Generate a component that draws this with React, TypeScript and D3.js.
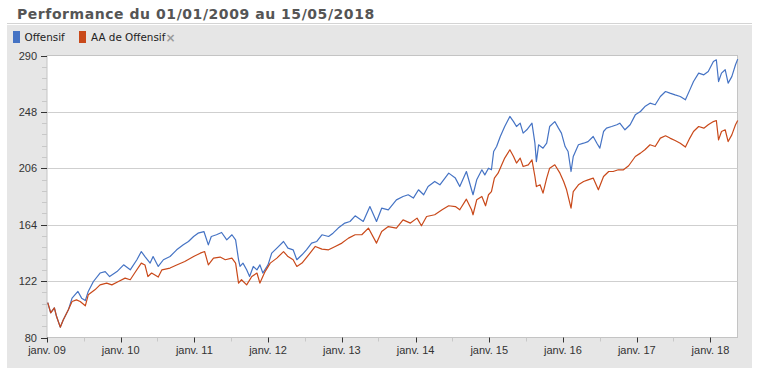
import React from "react";
import * as d3 from "d3";

// chart frame
const W = 759;
const H = 368;
const plotLeft = 47;
const plotRight = 737.5;
const plotTop = 55.5;
const plotBottom = 337.5;

const title = "Performance du 01/01/2009 au 15/05/2018";
const seriesNames = ["Offensif", "AA de Offensif"];
const seriesColors = ["#4573c4", "#c9491a"];

const yTicks = [80, 122, 164, 206, 248, 290];
const xTickLabels = ["janv. 09", "janv. 10", "janv. 11", "janv. 12", "janv. 13", "janv. 14", "janv. 15", "janv. 16", "janv. 17", "janv. 18"];

// dates as decimal years
const offensifYears = [
  2009.01, 2009.05, 2009.10, 2009.13, 2009.18, 2009.22, 2009.29, 2009.34, 2009.42, 2009.47, 2009.52, 2009.56, 2009.63, 2009.72, 2009.79, 2009.85, 2009.95,
  2010.04, 2010.13, 2010.22, 2010.28, 2010.33, 2010.40, 2010.44, 2010.51, 2010.58, 2010.67, 2010.76, 2010.85, 2010.92, 2010.99,
  2011.05, 2011.13, 2011.19, 2011.23, 2011.30, 2011.37, 2011.44, 2011.51, 2011.56, 2011.60, 2011.62, 2011.66, 2011.71, 2011.75, 2011.80, 2011.85, 2011.89, 2011.93,
  2012.00, 2012.05, 2012.12, 2012.21, 2012.27, 2012.34, 2012.39, 2012.46, 2012.52, 2012.59, 2012.66, 2012.73, 2012.82, 2012.88, 2012.95,
  2013.04, 2013.11, 2013.18, 2013.29, 2013.38, 2013.47, 2013.54, 2013.63, 2013.74, 2013.83, 2013.90, 2013.97,
  2014.04, 2014.11, 2014.17, 2014.26, 2014.33, 2014.45, 2014.54, 2014.60, 2014.69, 2014.76, 2014.78, 2014.83, 2014.90, 2014.94, 2014.99,
  2015.03, 2015.06, 2015.10, 2015.15, 2015.21, 2015.28, 2015.33, 2015.37, 2015.42, 2015.46, 2015.51, 2015.58, 2015.62, 2015.64, 2015.67, 2015.73, 2015.78, 2015.82, 2015.89, 2015.94, 2015.98,
  2016.03, 2016.07, 2016.11, 2016.14, 2016.21, 2016.28, 2016.34, 2016.41, 2016.46, 2016.50, 2016.55, 2016.59, 2016.66, 2016.73, 2016.77, 2016.84, 2016.91, 2016.98,
  2017.05, 2017.11, 2017.18, 2017.25, 2017.32, 2017.39, 2017.45, 2017.52, 2017.59, 2017.66, 2017.72, 2017.77, 2017.84, 2017.91, 2017.97,
  2018.04, 2018.08, 2018.11, 2018.15, 2018.20, 2018.24, 2018.29, 2018.34, 2018.37,
];
const offensifValues = [
  106, 98.4, 102, 95.6, 87.7, 93, 100.6, 109.3, 114.3, 109.3, 107.5, 114.3, 121.7, 128, 129.1, 125.4, 129.1,
  134.1, 130.4, 137.9, 144, 140.3, 135.4, 140.3, 132.9, 137.9, 140.3, 145.3, 149, 151.5, 155.2,
  157.7, 158.9, 149, 155.2, 156.5, 158.2, 152.7, 156.5, 152.7, 137.9, 132.9, 135.4, 130.4, 125.4, 132.9, 130.4, 134.1, 128,
  134.1, 142.8, 146.6, 151.5, 146.6, 145.3, 137.9, 141.6, 145.3, 150.3, 151.5, 156.5, 155.2, 157.7, 161.5,
  165.2, 166.4, 170.6, 166.4, 177.5, 166.4, 176.3, 175.1, 182.5, 185, 186.3, 183.8,
  190, 186.3, 192.4, 196.2, 193.7, 202.4, 198.7, 192.4, 203.6, 190, 186.3, 197.4, 204.9, 201.1, 206.1,
  204.9, 218.5, 222.2, 229.7, 237.1, 244.6, 240.8, 237.1, 239.6, 232.2, 234.7, 239.6, 224.7, 211, 223.5, 221, 224.7, 237.1, 240.8, 235.9, 232.2,
  222.2, 218.5, 203.6, 214.8, 223.5, 224.7, 225.9, 229.7, 224.7, 221, 233.4, 235.9, 237.1, 238.4, 239.6, 234.7, 238.4, 245.8,
  248.3, 252, 254.5, 253.3, 259.5, 263.2, 262, 260.7, 259.5, 257, 264.4, 270.6, 276.9, 275.6, 278.1,
  285.5, 286.8, 270.6, 276.9, 279.4, 269.4, 274.3, 283.1, 287.3,
];

const aaYears = [
  2009.01, 2009.05, 2009.10, 2009.13, 2009.18, 2009.22, 2009.29, 2009.34, 2009.40, 2009.45, 2009.52, 2009.56, 2009.65, 2009.72, 2009.81, 2009.88, 2009.97,
  2010.06, 2010.13, 2010.19, 2010.28, 2010.33, 2010.37, 2010.42, 2010.51, 2010.56, 2010.67, 2010.76, 2010.87, 2010.99,
  2011.08, 2011.14, 2011.19, 2011.26, 2011.35, 2011.42, 2011.51, 2011.56, 2011.60, 2011.64, 2011.71, 2011.78, 2011.85, 2011.89, 2011.96,
  2012.03, 2012.12, 2012.21, 2012.27, 2012.34, 2012.39, 2012.46, 2012.55, 2012.64, 2012.73, 2012.82, 2012.91,
  2013.00, 2013.09, 2013.18, 2013.27, 2013.36, 2013.47, 2013.54, 2013.63, 2013.74, 2013.83, 2013.93,
  2014.02, 2014.08, 2014.15, 2014.26, 2014.36, 2014.45, 2014.54, 2014.60, 2014.69, 2014.76, 2014.78, 2014.83, 2014.90, 2014.95, 2014.99,
  2015.03, 2015.07, 2015.12, 2015.17, 2015.21, 2015.28, 2015.33, 2015.37, 2015.42, 2015.46, 2015.53, 2015.58, 2015.62, 2015.64, 2015.69, 2015.73, 2015.78, 2015.82, 2015.89, 2015.96,
  2016.01, 2016.05, 2016.11, 2016.14, 2016.21, 2016.28, 2016.34, 2016.41, 2016.48, 2016.55, 2016.62, 2016.68, 2016.75, 2016.82, 2016.89, 2016.98,
  2017.05, 2017.11, 2017.18, 2017.25, 2017.32, 2017.39, 2017.45, 2017.52, 2017.59, 2017.66, 2017.72, 2017.77, 2017.84, 2017.91, 2017.97,
  2018.04, 2018.08, 2018.11, 2018.15, 2018.20, 2018.24, 2018.29, 2018.34, 2018.37,
];
const aaValues = [
  106, 98.4, 102, 95.6, 87.7, 93, 100.6, 106.8, 108, 106.8, 103.6, 111.8, 115.5, 119.2, 120.5, 119.2, 121.7,
  124.2, 123, 128, 135.4, 134, 125.4, 128, 125, 130.4, 131.7, 134, 136.6, 140.3,
  142.8, 144, 134.1, 139.1, 139.9, 137.9, 139.1, 135.4, 120.5, 123, 119.2, 125.4, 128, 120.5, 129.1,
  135.4, 139.1, 144, 140.3, 137.9, 132.9, 135.4, 141.6, 147.8, 145.8, 145.3, 147.8,
  150.3, 154, 156.5, 156.5, 161.5, 150.3, 158.9, 162.6, 161.5, 167.6, 165.2,
  168.9, 163.2, 170.1, 171.4, 175.1, 178.1, 177.5, 175.1, 183, 175.1, 171.4, 182.5, 185, 178.1, 186.3,
  188.7, 198.7, 202.4, 208.6, 213.6, 219.8, 214.8, 209.9, 213.6, 207.3, 208.6, 212.3, 199.9, 192.4, 193.7, 187.5, 198.7, 206.1, 208.6, 202.4,
  196.2, 190, 176.3, 188.7, 193.7, 196.2, 197.4, 198.7, 190, 199.9, 203.6, 203.6, 204.9, 204.9, 207.9, 214.8,
  217.3, 219.8, 223.5, 222.2, 228.5, 230.2, 228.5, 226.7, 224.7, 221.8, 228.5, 233.4, 237.1, 235.9, 238.4,
  240.8, 241.6, 227.2, 233.4, 234.7, 225.9, 230.9, 238.4, 241.6,
];

function toDate(t: number) {
  const y = Math.floor(t);
  const a = Date.UTC(y, 0, 1);
  const b = Date.UTC(y + 1, 0, 1);
  return new Date(a + (t - y) * (b - a));
}

export default function App() {
  const x = d3.scaleUtc()
    .domain([new Date(Date.UTC(2009, 0, 1)), new Date(Date.UTC(2018, 4, 15))])
    .range([plotLeft, plotRight]);
  const y = d3.scaleLinear().domain([80, 290]).range([plotBottom, plotTop]);

  const line = d3.line<[number, number]>()
    .x(d => x(toDate(d[0])))
    .y(d => y(d[1]));

  const offensif = offensifYears.map((t, i) => [t, offensifValues[i]] as [number, number]);
  const aa = aaYears.map((t, i) => [t, aaValues[i]] as [number, number]);

  const years = d3.utcYear.range(new Date(Date.UTC(2009, 0, 1)), new Date(Date.UTC(2018, 4, 16)));
  const halfYears = d3.utcMonth.every(6)!.range(new Date(Date.UTC(2009, 0, 1)), new Date(Date.UTC(2018, 4, 16)))
    .filter(d => d.getUTCMonth() === 6);
  const step = yTicks[1] - yTicks[0];
  const yMinor = d3.range(yTicks[0], yTicks[yTicks.length - 1], step / 5).filter((_, i) => i % 5 !== 0);

  const axisFont = "'Liberation Sans', Arial, sans-serif";
  const legendFont = "'DejaVu Sans', Verdana, sans-serif";

  return (
    <svg width={W} height={H} style={{ position: "absolute", left: 0, top: 0, background: "#fff" }}>
      <text x={17} y={19} fontFamily={legendFont} fontWeight="bold" fontSize={14} letterSpacing={0.55} fill="#555">{title}</text>
      <line x1={7} x2={752} y1={23.5} y2={23.5} stroke="#d4d4d4" />
      <rect x={7} y={25} width={745} height={H - 25} fill="#e6e6e6" />

      {/* legend */}
      <rect x={13} y={31} width={7} height={12} fill={seriesColors[0]} />
      <text x={24.5} y={41} fontFamily={legendFont} fontSize={10.4} fill="#222">{seriesNames[0]}</text>
      <rect x={79} y={31} width={7} height={12} fill={seriesColors[1]} />
      <text x={91} y={41} fontFamily={legendFont} fontSize={10.4} fill="#222">{seriesNames[1]}</text>
      <text x={165.5} y={41.5} fontFamily={legendFont} fontSize={12} fontWeight="bold" fill="#999">×</text>

      {/* plot area */}
      <rect x={plotLeft} y={plotTop} width={plotRight - plotLeft} height={plotBottom - plotTop} fill="#fff" stroke="#c4c4c4" />
      {yTicks.slice(1, -1).map(v => (
        <line key={"g" + v} x1={plotLeft} x2={plotRight} y1={Math.round(y(v)) + 0.5} y2={Math.round(y(v)) + 0.5} stroke="#cfcfcf" />
      ))}

      {/* y axis */}
      {yMinor.map(v => (
        <line key={"ym" + v} x1={plotLeft - 5} x2={plotLeft} y1={Math.round(y(v)) + 0.5} y2={Math.round(y(v)) + 0.5} stroke="#c8c8c8" />
      ))}
      {yTicks.map(v => (
        <g key={"y" + v}>
          <line x1={plotLeft - 6} x2={plotLeft} y1={Math.round(y(v)) + 0.5} y2={Math.round(y(v)) + 0.5} stroke="#333" />
          <text x={plotLeft - 10} y={y(v) + 4} textAnchor="end" fontFamily={axisFont} fontSize={11} fill="#333">{v}</text>
        </g>
      ))}

      {/* x axis */}
      {halfYears.map(d => (
        <line key={"xm" + d.getTime()} x1={Math.round(x(d)) + 0.5} x2={Math.round(x(d)) + 0.5} y1={plotBottom} y2={plotBottom + 4} stroke="#c8c8c8" />
      ))}
      {years.map((d, i) => (
        <g key={"x" + i}>
          <line x1={Math.round(x(d)) + 0.5} x2={Math.round(x(d)) + 0.5} y1={plotBottom} y2={plotBottom + 5} stroke="#333" />
          <text x={x(d)} y={plotBottom + 16} textAnchor="middle" fontFamily={axisFont} fontSize={11} fill="#333">{xTickLabels[i]}</text>
        </g>
      ))}

      {/* series */}
      <path d={line(offensif) ?? ""} fill="none" stroke={seriesColors[0]} strokeWidth={1.2} strokeLinejoin="round" />
      <path d={line(aa) ?? ""} fill="none" stroke={seriesColors[1]} strokeWidth={1.2} strokeLinejoin="round" />
    </svg>
  );
}
